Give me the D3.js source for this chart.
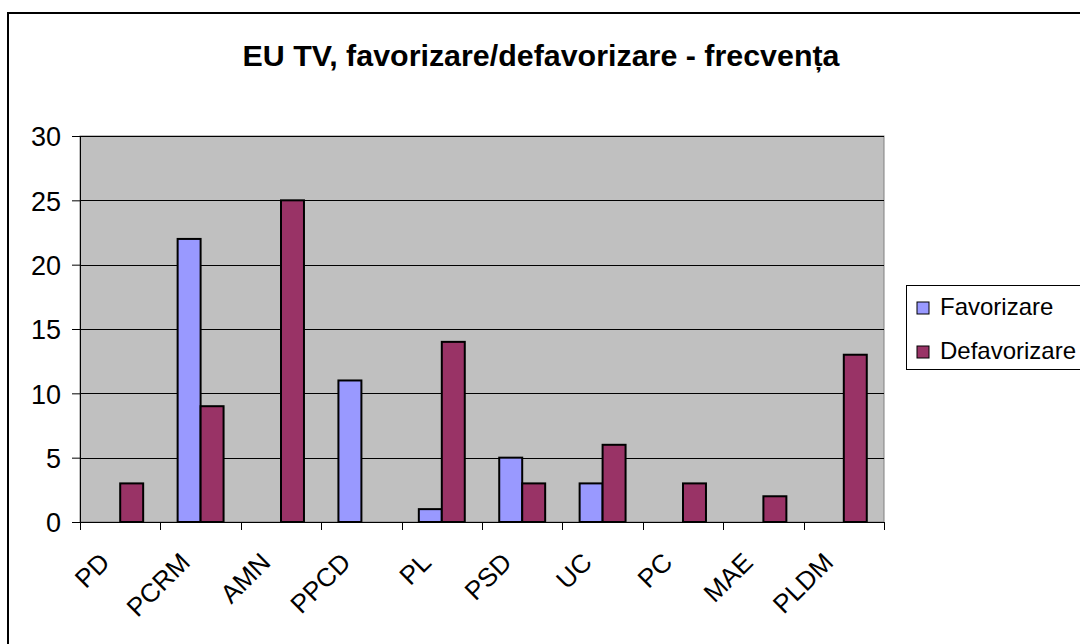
<!DOCTYPE html>
<html>
<head>
<meta charset="utf-8">
<script src="https://cdn.jsdelivr.net/npm/d3@7"></script>
<style>
  html, body { margin: 0; padding: 0; background: #fff; }
  svg { display: block; font-family: Arial, "Liberation Sans", sans-serif; }
</style>
</head>
<body>
<svg id="chart" width="1080" height="644"></svg>
<script>
const categories = ["PD", "PCRM", "AMN", "PPCD", "PL", "PSD", "UC", "PC", "MAE", "PLDM"];
const favorizare = [0, 22, 0, 11, 1, 5, 3, 0, 0, 0];
const defavorizare = [3, 9, 25, 0, 14, 3, 6, 3, 2, 13];
const seriesNames = ["Favorizare", "Defavorizare"];
const seriesColors = ["#9999FF", "#993366"];
const yTicks = [0, 5, 10, 15, 20, 25, 30];
const titleText = "EU TV, favorizare/defavorizare - frecvența";

const svg = d3.select("#chart");
const plot = { left: 80, top: 136, right: 884, bottom: 522 };

// outer chart border
svg.append("rect")
  .attr("x", 8).attr("y", 13).attr("width", 1090).attr("height", 660)
  .attr("fill", "#fff").attr("stroke", "#000").attr("stroke-width", 2);

// title
svg.append("text")
  .attr("x", 541).attr("y", 66)
  .attr("text-anchor", "middle")
  .attr("font-weight", "bold").attr("font-size", 29)
  .attr("textLength", 597).attr("lengthAdjust", "spacingAndGlyphs")
  .text(titleText);

const x = d3.scaleBand().domain(categories).range([plot.left, plot.right]).paddingInner(0).paddingOuter(0);
const y = d3.scaleLinear().domain([0, 30]).range([plot.bottom, plot.top]);

// plot area background
svg.append("rect")
  .attr("x", plot.left).attr("y", plot.top)
  .attr("width", plot.right - plot.left).attr("height", plot.bottom - plot.top)
  .attr("fill", "#C0C0C0").attr("stroke", "#808080").attr("stroke-width", 1);

// gridlines
svg.append("g").selectAll("line").data(yTicks.filter(d => d > 0)).join("line")
  .attr("x1", plot.left).attr("x2", plot.right)
  .attr("y1", d => Math.round(y(d)) + 0.5).attr("y2", d => Math.round(y(d)) + 0.5)
  .attr("stroke", "#000").attr("stroke-width", 1);

// bars
const bw = x.bandwidth() / 3.5;
const inner = d3.scaleBand().domain(seriesNames).range([x.bandwidth() / 2 - bw, x.bandwidth() / 2 + bw]);
const rows = [];
categories.forEach((c, i) => {
  [favorizare[i], defavorizare[i]].forEach((v, s) => {
    if (v > 0) rows.push({ c, s, v });
  });
});
svg.append("g").selectAll("rect").data(rows).join("rect")
  .attr("x", d => x(d.c) + inner(seriesNames[d.s]))
  .attr("y", d => y(d.v))
  .attr("width", inner.bandwidth())
  .attr("height", d => y(0) - y(d.v))
  .attr("fill", d => seriesColors[d.s])
  .attr("stroke", "#000").attr("stroke-width", 2);

// y axis
const yAxis = d3.axisLeft(y).tickValues(yTicks).tickSize(8).tickPadding(11).tickFormat(d3.format("d"));
const gy = svg.append("g").attr("transform", `translate(${plot.left},0)`).call(yAxis);
gy.select(".domain").remove();
gy.append("line").attr("x1", 0.5).attr("x2", 0.5).attr("y1", plot.top).attr("y2", plot.bottom).attr("stroke", "#000");
gy.selectAll(".tick line").attr("stroke", "#000");
gy.selectAll(".tick text").attr("font-size", 27).attr("font-family", "Arial, 'Liberation Sans', sans-serif").attr("fill", "#000").attr("dy", "0.36em");

// x axis
const gx = svg.append("g").attr("transform", `translate(0,${plot.bottom})`);
gx.append("line").attr("x1", plot.left).attr("x2", plot.right).attr("y1", 0.5).attr("y2", 0.5).attr("stroke", "#000");
const boundaries = categories.map(c => x(c)).concat([plot.right]);
gx.selectAll("line.tk").data(boundaries).join("line").attr("class", "tk")
  .attr("x1", d => Math.round(d) + 0.5).attr("x2", d => Math.round(d) + 0.5)
  .attr("y1", 0).attr("y2", 8).attr("stroke", "#000");
gx.selectAll("text").data(categories).join("text")
  .attr("transform", d => `translate(${x(d) + x.bandwidth() / 2 - 9},42) rotate(-45)`)
  .attr("text-anchor", "end")
  .attr("font-size", 26)
  .text(d => d);

// legend
const lg = svg.append("g");
lg.append("rect").attr("x", 906.5).attr("y", 285.5).attr("width", 200).attr("height", 84)
  .attr("fill", "#fff").attr("stroke", "#000").attr("stroke-width", 1);
seriesNames.forEach((n, i) => {
  lg.append("rect").attr("x", 917).attr("y", 302 + i * 44).attr("width", 12).attr("height", 12)
    .attr("fill", seriesColors[i]).attr("stroke", "#000").attr("stroke-width", 1);
  lg.append("text").attr("x", 940).attr("y", 315 + i * 44).attr("font-size", 24).text(n);
});
</script>
</body>
</html>
